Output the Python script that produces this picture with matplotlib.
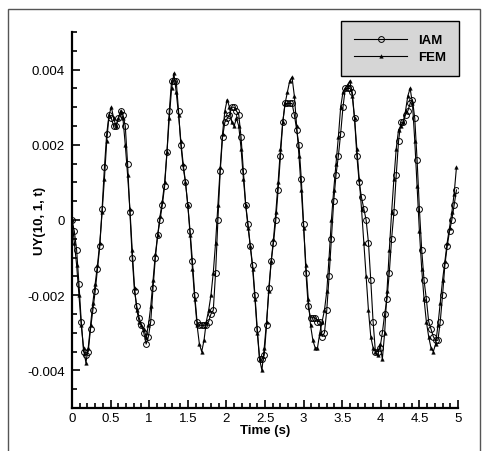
import numpy as np
import matplotlib
matplotlib.use("Agg")
import matplotlib.pyplot as plt
from matplotlib.patches import Rectangle
from matplotlib.ticker import MultipleLocator

plt.rcParams['font.family'] = ['Liberation Sans', 'DejaVu Sans']

# sampling step of both solutions (s)
dt = 0.03

# vertical displacement at node (10, 1) -- IAM solution
iam_uy = [
    0.0, -0.0003, -0.0008, -0.0017, -0.0027, -0.0035, -0.0036, -0.0035, -0.0029, -0.0024,
    -0.0019, -0.0013, -0.0007, 0.0003, 0.0014, 0.0023, 0.0028, 0.0027, 0.0025, 0.0025,
    0.0027, 0.0029, 0.0028, 0.0025, 0.0015, 0.0002, -0.0010, -0.0019, -0.0023, -0.0026,
    -0.0028, -0.0030, -0.0033, -0.0031, -0.0027, -0.0018, -0.0010, -0.0004, 0.0000, 0.0004,
    0.0009, 0.0018, 0.0029, 0.0037, 0.0037, 0.0037, 0.0029, 0.0020, 0.0014, 0.0010,
    0.0004, -0.0003, -0.0011, -0.0020, -0.0027, -0.0028, -0.0028, -0.0028, -0.0028, -0.0027,
    -0.0025, -0.0024, -0.0014, 0.0000, 0.0013, 0.0022, 0.0026, 0.0027, 0.0028, 0.0030,
    0.0030, 0.0029, 0.0028, 0.0022, 0.0013, 0.0004, -0.0001, -0.0007, -0.0012, -0.0020,
    -0.0029, -0.0037, -0.0037, -0.0036, -0.0028, -0.0018, -0.0011, -0.0006, 0.0000, 0.0008,
    0.0017, 0.0026, 0.0031, 0.0031, 0.0031, 0.0031, 0.0028, 0.0024, 0.0020, 0.0011,
    -0.0001, -0.0014, -0.0023, -0.0026, -0.0026, -0.0026, -0.0027, -0.0027, -0.0031, -0.0030,
    -0.0024, -0.0015, -0.0005, 0.0005, 0.0012, 0.0017, 0.0023, 0.0030, 0.0035, 0.0035,
    0.0035, 0.0034, 0.0027, 0.0017, 0.0010, 0.0006, 0.0003, 0.0000, -0.0006, -0.0016,
    -0.0027, -0.0035, -0.0035, -0.0034, -0.0030, -0.0025, -0.0021, -0.0014, -0.0005, 0.0002,
    0.0012, 0.0021, 0.0026, 0.0026, 0.0028, 0.0029, 0.0031, 0.0032, 0.0027, 0.0016,
    0.0003, -0.0008, -0.0016, -0.0021, -0.0027, -0.0029, -0.0031, -0.0032, -0.0032, -0.0027,
    -0.0020, -0.0012, -0.0007, -0.0003, 0.0000, 0.0004, 0.0008,
]

# same node, FEM reference solution
fem_uy = [
    0.0, -0.0006, -0.0012, -0.0020, -0.0028, -0.0034, -0.0038, -0.0034, -0.0028, -0.0022,
    -0.0017, -0.0012, -0.0006, 0.0002, 0.0011, 0.0021, 0.0028, 0.0030, 0.0027, 0.0025,
    0.0027, 0.0029, 0.0027, 0.0020, 0.0012, 0.0003, -0.0008, -0.0018, -0.0024, -0.0027,
    -0.0028, -0.0029, -0.0031, -0.0028, -0.0023, -0.0016, -0.0009, -0.0004, 0.0001, 0.0005,
    0.0010, 0.0018, 0.0027, 0.0035, 0.0039, 0.0034, 0.0028, 0.0021, 0.0015, 0.0010,
    0.0004, -0.0004, -0.0013, -0.0021, -0.0028, -0.0033, -0.0035, -0.0032, -0.0027, -0.0024,
    -0.0020, -0.0014, -0.0006, 0.0004, 0.0014, 0.0023, 0.0029, 0.0032, 0.0030, 0.0026,
    0.0025, 0.0027, 0.0025, 0.0019, 0.0011, 0.0004, -0.0002, -0.0007, -0.0013, -0.0021,
    -0.0030, -0.0037, -0.0040, -0.0034, -0.0027, -0.0019, -0.0011, -0.0005, 0.0002, 0.0010,
    0.0019, 0.0026, 0.0031, 0.0034, 0.0037, 0.0038, 0.0033, 0.0025, 0.0017, 0.0008,
    -0.0002, -0.0012, -0.0021, -0.0028, -0.0032, -0.0034, -0.0034, -0.0030, -0.0027, -0.0024,
    -0.0019, -0.0010, 0.0000, 0.0008, 0.0015, 0.0022, 0.0030, 0.0034, 0.0035, 0.0036,
    0.0037, 0.0033, 0.0027, 0.0019, 0.0011, 0.0003, -0.0006, -0.0015, -0.0024, -0.0031,
    -0.0034, -0.0035, -0.0036, -0.0033, -0.0037, -0.0030, -0.0019, -0.0008, 0.0002, 0.0011,
    0.0019, 0.0024, 0.0025, 0.0026, 0.0029, 0.0033, 0.0035, 0.0031, 0.0021, 0.0009,
    -0.0003, -0.0013, -0.0021, -0.0027, -0.0031, -0.0034, -0.0035, -0.0033, -0.0028, -0.0022,
    -0.0016, -0.0011, -0.0006, -0.0002, 0.0002, 0.0007, 0.0014,
]

y_ticks = [-0.004, -0.002, 0.0, 0.002, 0.004]
y_tick_labels = ['-0.004', '-0.002', '0', '0.002', '0.004']
x_ticks = [0, 0.5, 1, 1.5, 2, 2.5, 3, 3.5, 4, 4.5, 5]
x_tick_labels = ['0', '0.5', '1', '1.5', '2', '2.5', '3', '3.5', '4', '4.5', '5']

iam_t = np.arange(len(iam_uy)) * dt
fem_t = np.arange(len(fem_uy)) * dt

fig = plt.figure(figsize=(4.82, 4.52), dpi=100)

# thin outer frame around the page, open at the bottom
fig.patches.append(Rectangle((8 / 482, -0.3), 472 / 482, 1.3 - 10 / 452,
                             transform=fig.transFigure, fill=False,
                             edgecolor='#555555', lw=1.0))

ax = fig.add_axes([72 / 482, 43 / 452, 386 / 482, 376 / 452])

ax.plot(iam_t, iam_uy, color='black', lw=0.8, marker='o', ms=4.2,
        mfc='none', mec='black', mew=0.7, label='IAM')
ax.plot(fem_t, fem_uy, color='black', lw=0.8, marker='^', ms=2.6,
        mfc='black', mec='black', mew=0.3, label='FEM')

ax.set_xlim(0, 5)
ax.set_ylim(-0.005, 0.005)
ax.set_xticks(x_ticks)
ax.set_xticklabels(x_tick_labels)
ax.set_yticks(y_ticks)
ax.set_yticklabels(y_tick_labels)
ax.xaxis.set_minor_locator(MultipleLocator(0.1))
ax.yaxis.set_minor_locator(MultipleLocator(0.0005))

for side in ('top', 'right'):
    ax.spines[side].set_visible(False)
for side in ('left', 'bottom'):
    ax.spines[side].set_linewidth(1.6)

ax.tick_params(which='both', direction='in', width=1.2, labelsize=9.5,
               colors='black')
ax.tick_params(which='major', length=6)
ax.tick_params(which='minor', length=3.5)
ax.tick_params(axis='y', pad=5)
ax.tick_params(axis='x', pad=3)

ax.set_xlabel('Time (s)', fontsize=9.5, fontweight='bold', labelpad=0)
ax.set_ylabel('UY(10, 1, t)', fontsize=9.5, fontweight='bold')
ax.yaxis.set_label_coords(-0.068, 0.5)

leg = ax.legend(loc='upper right', bbox_to_anchor=(459 / 482, 1 - 22 / 452),
                bbox_transform=fig.transFigure, borderaxespad=0,
                fancybox=False, framealpha=1, facecolor='#d6d6d6',
                edgecolor='black', handlelength=4.0, handletextpad=0.8,
                borderpad=1.0, labelspacing=0.35,
                prop={'size': 9.5, 'weight': 'bold'})
leg.get_frame().set_linewidth(1.0)

fig.savefig('out.png', dpi=100)
